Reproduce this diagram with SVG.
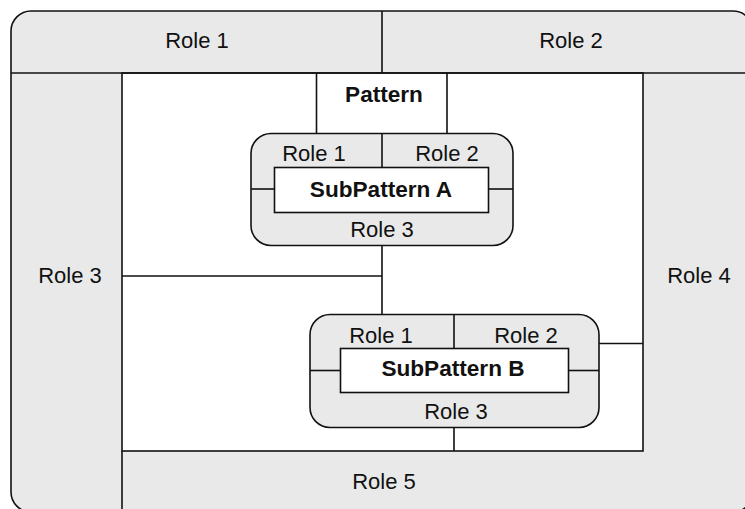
<svg xmlns="http://www.w3.org/2000/svg" width="745" height="509" viewBox="0 0 745 509">
<style>
.band{fill:#e9e9e9;stroke:#111;stroke-width:1.6}
.box{fill:#fff;stroke:#111;stroke-width:1.6}
.ln{stroke:#111;stroke-width:1.6;fill:none}
text{font-family:"Liberation Sans",Arial,Helvetica,sans-serif;font-size:22px;fill:#111;text-anchor:middle}
.b{font-weight:bold;font-size:22.6px}
</style>
<g id="outer">
<rect class="band" x="11" y="11" width="742" height="501" rx="20" ry="20"/>
<rect class="box" x="122" y="73" width="521" height="378"/>
<line class="ln" x1="11" y1="73" x2="753" y2="73"/>
<line class="ln" x1="382" y1="11" x2="382" y2="73"/>
<line class="ln" x1="122" y1="451" x2="122" y2="512"/>
<text x="197" y="48">Role 1</text>
<text x="571" y="48">Role 2</text>
<text x="70" y="283">Role 3</text>
<text x="699" y="283">Role 4</text>
<text x="384" y="489">Role 5</text>
</g>
<g id="pattern">
<text class="b" x="384" y="102">Pattern</text>
</g>
<g id="subpatternA">
<rect class="band" x="251" y="133.5" width="262" height="112" rx="20" ry="20"/>
<rect class="box" x="274.5" y="167.5" width="214" height="45"/>
<line class="ln" x1="382" y1="133.5" x2="382" y2="167.5"/>
<line class="ln" x1="251" y1="189" x2="274.5" y2="189"/>
<line class="ln" x1="488.5" y1="189" x2="513" y2="189"/>
<text x="314" y="161">Role 1</text>
<text x="447" y="161">Role 2</text>
<text class="b" x="381" y="197">SubPattern A</text>
<text x="382" y="237">Role 3</text>
</g>
<g id="subpatternB">
<rect class="band" x="310" y="314.5" width="289" height="113" rx="20" ry="20"/>
<rect class="box" x="340.5" y="348.5" width="228" height="44"/>
<line class="ln" x1="454" y1="314.5" x2="454" y2="348.5"/>
<line class="ln" x1="310" y1="370.5" x2="340.5" y2="370.5"/>
<line class="ln" x1="568.5" y1="370.5" x2="599" y2="370.5"/>
<text x="381" y="343">Role 1</text>
<text x="526" y="343">Role 2</text>
<text class="b" x="453" y="376">SubPattern B</text>
<text x="456" y="419">Role 3</text>
</g>
<g id="connectors">
<line class="ln" x1="316.5" y1="73" x2="316.5" y2="133.5"/>
<line class="ln" x1="447" y1="73" x2="447" y2="133.5"/>
<line class="ln" x1="382" y1="245.5" x2="382" y2="314.5"/>
<line class="ln" x1="122" y1="276" x2="382" y2="276"/>
<line class="ln" x1="599" y1="343.5" x2="643" y2="343.5"/>
<line class="ln" x1="454" y1="427.5" x2="454" y2="451"/>
</g>
</svg>
